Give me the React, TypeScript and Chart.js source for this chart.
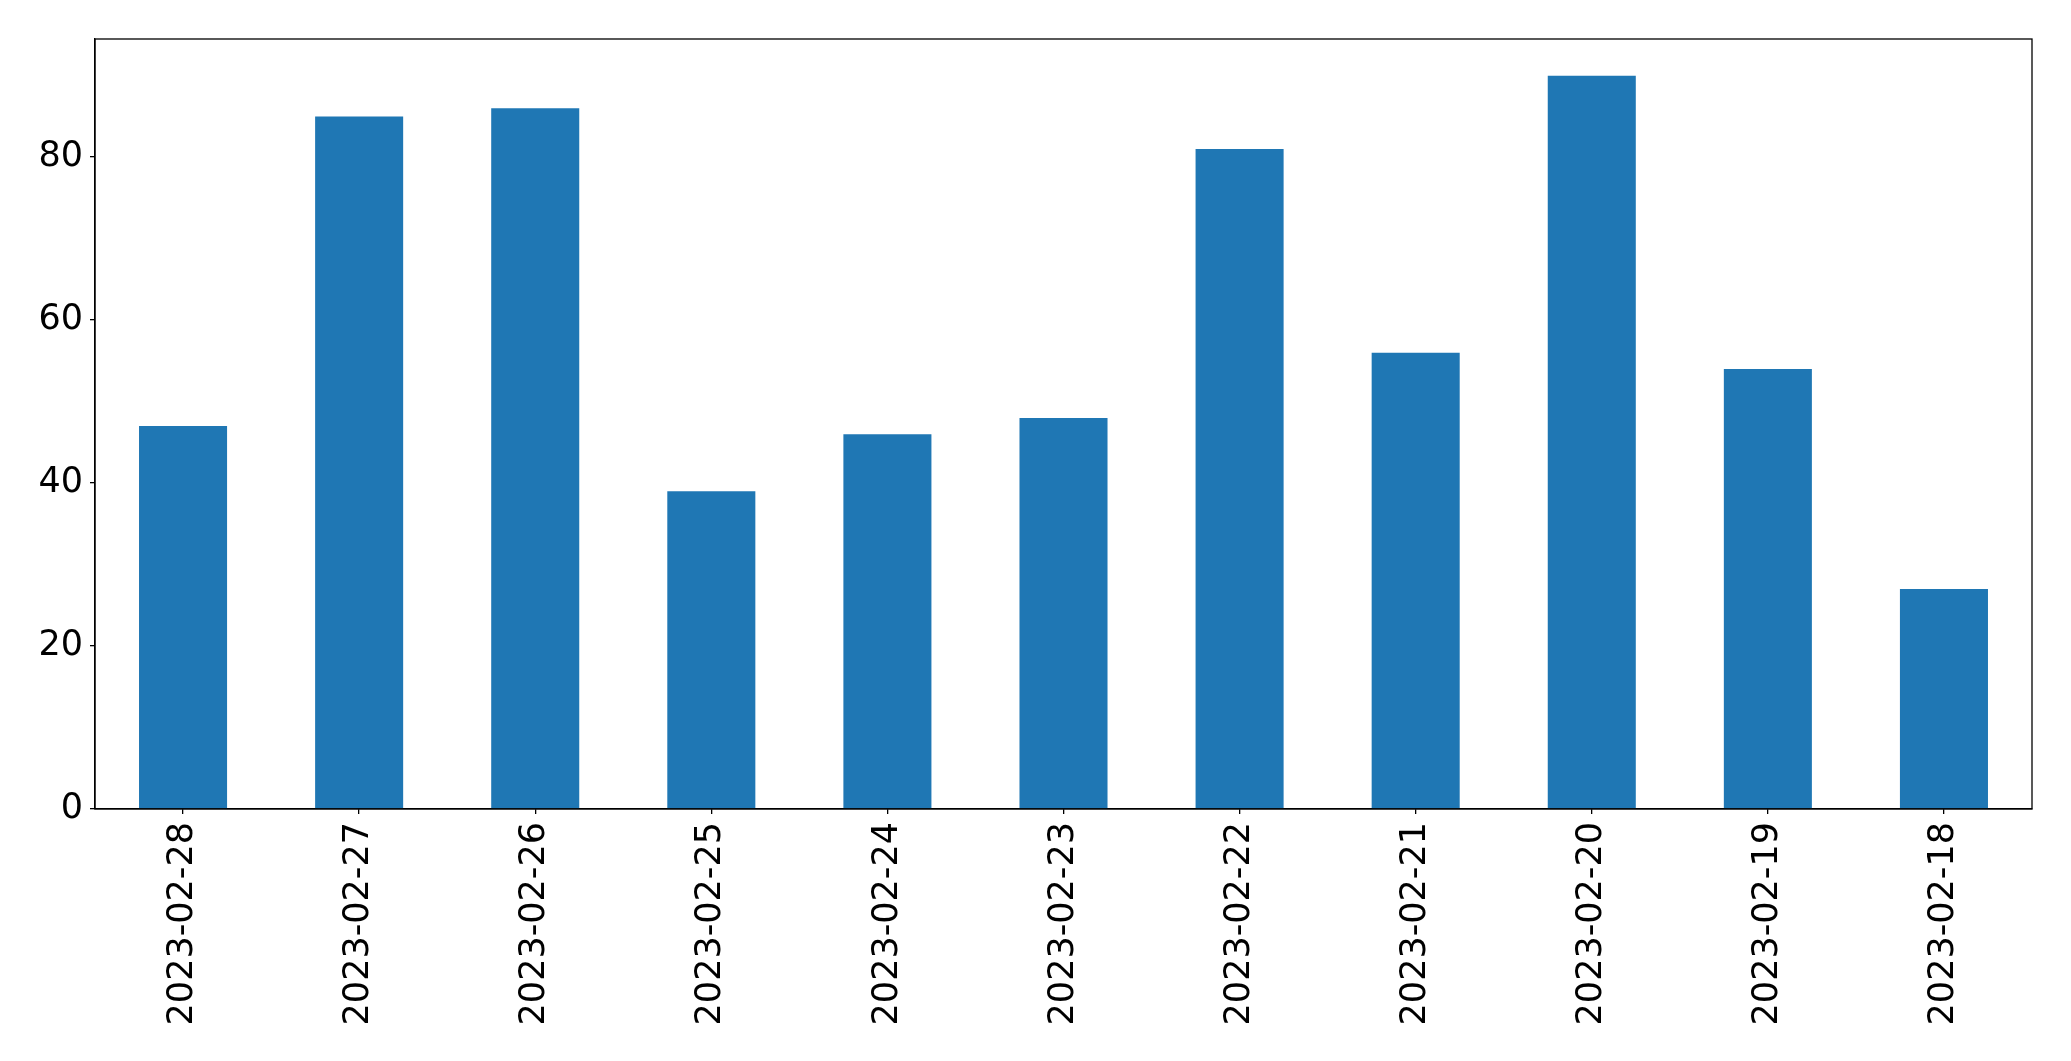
import React, { useEffect, useRef } from "react";
import { Chart, registerables } from "chart.js";

Chart.register(...registerables);

const categories = [
  "2023-02-28", "2023-02-27", "2023-02-26", "2023-02-25", "2023-02-24", "2023-02-23",
  "2023-02-22", "2023-02-21", "2023-02-20", "2023-02-19", "2023-02-18",
];
const values = [47, 85, 86, 39, 46, 48, 81, 56, 90, 54, 27];
const yTicks = [0, 20, 40, 60, 80];
const yMax = 94.5;

const W = 2071;
const H = 1061;
const FONT = { family: "'DejaVu Sans', sans-serif", size: 35 };

const framePlugin = {
  id: "frame",
  afterDraw(chart: any) {
    const { ctx, chartArea } = chart;
    ctx.save();
    ctx.strokeStyle = "#000";
    ctx.lineWidth = 1.3;
    ctx.strokeRect(chartArea.left, chartArea.top, chartArea.right - chartArea.left, chartArea.bottom - chartArea.top);
    ctx.restore();
  },
};

export default function App() {
  const ref = useRef<HTMLCanvasElement | null>(null);
  useEffect(() => {
    if (!ref.current) return;
    const chart = new Chart(ref.current, {
      type: "bar",
      data: {
        labels: categories,
        datasets: [
          {
            data: values,
            backgroundColor: "#1f77b4",
            borderWidth: 0,
            categoryPercentage: 1,
            barPercentage: 0.5,
          },
        ],
      },
      options: {
        responsive: false,
        animation: false,
        devicePixelRatio: 1,
        layout: { padding: { left: 0, top: 39, right: 39, bottom: 0 } },
        plugins: { legend: { display: false }, tooltip: { enabled: false } },
        scales: {
          x: {
            offset: true,
            grid: { display: true, drawOnChartArea: false, drawTicks: true, tickLength: 5, color: "#000", offset: false, lineWidth: 1.3 },
            border: { display: true, color: "#000", width: 1.3 },
            ticks: { font: FONT, color: "#000", maxRotation: 90, minRotation: 90, padding: 8, autoSkip: false },
            afterFit: (axis: any) => { axis.height = H - 809; },
          },
          y: {
            min: 0,
            max: yMax,
            grid: { display: true, drawOnChartArea: false, drawTicks: true, tickLength: 5, color: "#000", lineWidth: 1.3 },
            border: { display: true, color: "#000", width: 1.3 },
            ticks: { font: FONT, color: "#000", padding: 7 },
            afterBuildTicks: (axis: any) => { axis.ticks = yTicks.map((v) => ({ value: v })); },
            afterFit: (axis: any) => { axis.width = 95; },
          },
        },
      },
      plugins: [framePlugin],
    });
    return () => chart.destroy();
  }, []);
  return (
    <div style={{ position: "absolute", left: 0, top: 0, width: W, height: H, background: "#fff" }}>
      <canvas ref={ref} width={W} height={H} style={{ width: W, height: H, display: "block" }} />
    </div>
  );
}
